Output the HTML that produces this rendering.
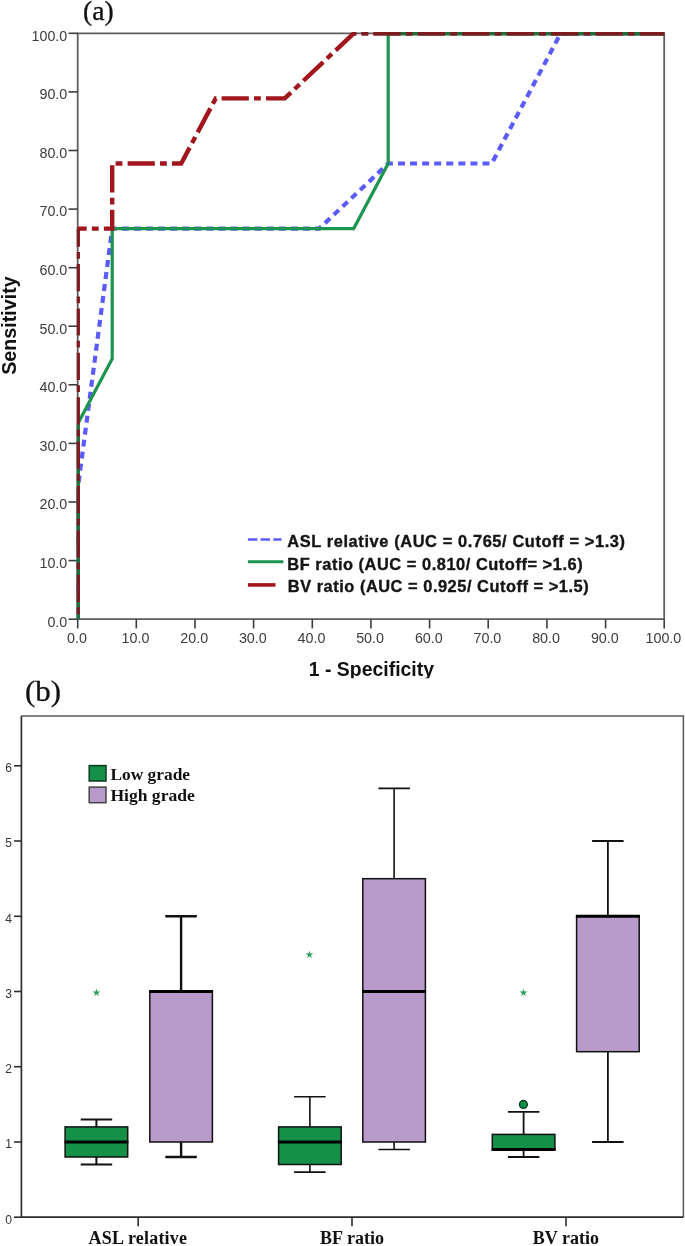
<!DOCTYPE html>
<html lang="en"><head><meta charset="utf-8"><title>ROC curves and box plots</title>
<style>
html,body{margin:0;padding:0;background:#fff}
body{width:685px;height:1246px;overflow:hidden}
svg{display:block;filter:blur(0.7px)}
.sans{font-family:"Liberation Sans",Arial,sans-serif}
.serif{font-family:"Liberation Serif","Times New Roman",serif}
.tk{font-size:14.3px;fill:#3c3c3c}
.btk{font-size:12px;fill:#333}
.leg{font-size:16.4px;font-weight:bold;fill:#141414;stroke:#141414;stroke-width:0.35px}
.ttl{font-size:19.5px;font-weight:bold;fill:#111}
.cat{font-size:18px;font-weight:bold;fill:#111}
.lg2{font-size:17.5px;font-weight:bold;fill:#111}
.pan{font-size:26px;fill:#111;stroke:#111;stroke-width:0.3px}
</style></head><body>
<svg width="685" height="1246" viewBox="0 0 685 1246">
<rect width="685" height="1246" fill="#fff"/>
<defs><clipPath id="pa"><rect x="76.7" y="32.1" width="589.1" height="588.9"/></clipPath>
<clipPath id="ct"><rect x="0" y="0" width="685" height="678.3"/></clipPath></defs>

<text class="serif pan" x="83.1" y="19.8" style="font-size:26.4px" textLength="30.7" lengthAdjust="spacingAndGlyphs">(a)</text>
<g stroke="#5e5e5e" stroke-width="1.8" fill="none">
<path d="M77.7 33.3 H664.2 V619.2 H77.7 Z"/>
</g>
<g stroke="#3d3d3d" stroke-width="1.6" fill="none">
<path d="M77.7 619.2 h-9.2"/>
<path d="M77.7 619.2 v9.2"/>
<path d="M77.7 560.6 h-9.2"/>
<path d="M136.3 619.2 v9.2"/>
<path d="M77.7 502.0 h-9.2"/>
<path d="M195.0 619.2 v9.2"/>
<path d="M77.7 443.4 h-9.2"/>
<path d="M253.6 619.2 v9.2"/>
<path d="M77.7 384.8 h-9.2"/>
<path d="M312.3 619.2 v9.2"/>
<path d="M77.7 326.2 h-9.2"/>
<path d="M370.9 619.2 v9.2"/>
<path d="M77.7 267.7 h-9.2"/>
<path d="M429.6 619.2 v9.2"/>
<path d="M77.7 209.1 h-9.2"/>
<path d="M488.2 619.2 v9.2"/>
<path d="M77.7 150.5 h-9.2"/>
<path d="M546.9 619.2 v9.2"/>
<path d="M77.7 91.9 h-9.2"/>
<path d="M605.6 619.2 v9.2"/>
<path d="M77.7 33.3 h-9.2"/>
<path d="M664.2 619.2 v9.2"/>
</g>
<g class="sans tk" text-anchor="end">
<text x="67.3" y="626.5">0.0</text>
<text x="67.3" y="567.9">10.0</text>
<text x="67.3" y="509.3">20.0</text>
<text x="67.3" y="450.7">30.0</text>
<text x="67.3" y="392.1">40.0</text>
<text x="67.3" y="333.6">50.0</text>
<text x="67.3" y="275.0">60.0</text>
<text x="67.3" y="216.4">70.0</text>
<text x="67.3" y="157.8">80.0</text>
<text x="67.3" y="99.2">90.0</text>
<text x="67.3" y="40.6">100.0</text>
</g>
<g class="sans tk" text-anchor="middle">
<text x="76.9" y="643.3">0.0</text>
<text x="135.5" y="643.3">10.0</text>
<text x="194.2" y="643.3">20.0</text>
<text x="252.8" y="643.3">30.0</text>
<text x="311.5" y="643.3">40.0</text>
<text x="370.1" y="643.3">50.0</text>
<text x="428.8" y="643.3">60.0</text>
<text x="487.4" y="643.3">70.0</text>
<text x="546.1" y="643.3">80.0</text>
<text x="604.8" y="643.3">90.0</text>
<text x="663.4" y="643.3">100.0</text>
</g>
<g clip-path="url(#pa)" fill="none" stroke-linejoin="miter">
<path d="M77.7 619.2 L77.7 489.0 L112.2 228.6 L319.2 228.6 L388.2 163.5 L491.7 163.5 L560.7 33.3 L664.2 33.3" stroke="#5b5bff" stroke-width="4.2" stroke-dasharray="7 5.08" stroke-dashoffset="8.22"/>
<path d="M77.7 619.2 L77.7 423.9 L112.2 358.8 L112.2 228.6 L353.7 228.6 L388.2 163.5 L388.2 33.3 L664.2 33.3" stroke="#1d9450" stroke-width="3.2"/>
<path d="M77.7 228.6 L112.2 228.6 L112.2 163.5 L181.2 163.5 L215.7 98.4 L284.7 98.4 L353.7 33.3 L664.2 33.3" stroke="#a3151c" stroke-width="4.4" stroke-dasharray="27.2 5.2 6.8 5.2" stroke-dashoffset="18.2"/>
<path d="M77.7 619.2 L77.7 489.0" stroke="#4c4cc0" stroke-width="4.5"/>
<path d="M77.7 619.2 L77.7 423.9" stroke="#1e6e3c" stroke-width="4.5"/>
<path d="M388.2 33.3 L664.2 33.3" stroke="#1e6e3c" stroke-width="4.5"/>
<path d="M77.7 619.2 L77.7 228.6" stroke="#7c1c21" stroke-width="4.5" stroke-dasharray="27.2 5.2 6.8 5.2" stroke-dashoffset="27.2"/>
<path d="M353.7 33.3 L664.2 33.3" stroke="#7c1c21" stroke-width="4.5" stroke-dasharray="27.2 5.2 6.8 5.2" stroke-dashoffset="24.6"/>
</g>
<path d="M247.9 539.5 H281.5" stroke="#5b5bff" stroke-width="2.6" stroke-dasharray="9.5 3.2" fill="none"/>
<path d="M247.9 561.8 H283.4" stroke="#1d9450" stroke-width="3" fill="none"/>
<path d="M247.9 584.9 H275.5" stroke="#a3151c" stroke-width="3.6" fill="none"/>
<g class="sans leg">
<text x="287.3" y="547.4" textLength="337.7" lengthAdjust="spacing">ASL relative (AUC = 0.765/ Cutoff = &gt;1.3)</text>
<text x="287.3" y="570.2" textLength="295.3" lengthAdjust="spacing">BF ratio (AUC = 0.810/ Cutoff= &gt;1.6)</text>
<text x="287.8" y="591.9" textLength="300.8" lengthAdjust="spacing">BV ratio (AUC = 0.925/ Cutoff = &gt;1.5)</text>
</g>
<text class="sans ttl" transform="translate(16.2 374.8) rotate(-90)" textLength="98.6" lengthAdjust="spacingAndGlyphs">Sensitivity</text>
<g clip-path="url(#ct)"><text class="sans ttl" x="308.8" y="676.1" textLength="125.2" lengthAdjust="spacingAndGlyphs">1 - Specificity</text></g>
<text class="serif pan" x="25.1" y="701" style="font-size:29.8px" textLength="36" lengthAdjust="spacingAndGlyphs">(b)</text>
<g fill="none">
<path d="M21.4 715.9 H683.4 V1217.2" stroke="#5a5a5a" stroke-width="1.5"/>
<path d="M21.4 715.9 V1217.2 H683.4" stroke="#2e2e2e" stroke-width="1.7"/>
<g stroke="#2e2e2e" stroke-width="1.6">
<path d="M21.4 1217.2 h-7.4"/>
<path d="M21.4 1142.0 h-7.4"/>
<path d="M21.4 1066.7 h-7.4"/>
<path d="M21.4 991.5 h-7.4"/>
<path d="M21.4 916.3 h-7.4"/>
<path d="M21.4 841.0 h-7.4"/>
<path d="M21.4 765.8 h-7.4"/>
<path d="M138.2 1217.2 v9"/>
<path d="M352.0 1217.2 v9"/>
<path d="M566.0 1217.2 v9"/>
</g></g>
<g class="sans btk" text-anchor="end">
<text x="12" y="1223.5">0</text>
<text x="12" y="1148.3">1</text>
<text x="12" y="1073.0">2</text>
<text x="12" y="997.8">3</text>
<text x="12" y="922.6">4</text>
<text x="12" y="847.3">5</text>
<text x="12" y="772.1">6</text>
</g>
<g class="serif cat" text-anchor="middle">
<text x="137.8" y="1243.5" textLength="98.4" lengthAdjust="spacing">ASL relative</text>
<text x="352.0" y="1243.5">BF ratio</text>
<text x="565.9" y="1243.5">BV ratio</text>
</g>
<rect x="89.2" y="765.6" width="16.8" height="15.4" fill="#149048" stroke="#0b3a1f" stroke-width="1.5"/>
<rect x="89.2" y="787.1" width="16.8" height="15.6" fill="#b89bcb" stroke="#444" stroke-width="1.5"/>
<text class="serif lg2" x="110.4" y="780.2" textLength="79.7" lengthAdjust="spacingAndGlyphs">Low grade</text>
<text class="serif lg2" x="110.4" y="800.5" textLength="84.4" lengthAdjust="spacingAndGlyphs">High grade</text>
<g stroke="#111" stroke-width="2.0" fill="none">
<path d="M96.4 1119.4 V1126.9 M96.4 1157.0 V1164.5"/>
<path d="M80.7 1119.4 h31.5 M80.7 1164.5 h31.5"/>
<rect x="65.1" y="1126.9" width="62.6" height="30.1" fill="#149048" stroke-width="1.5"/>
<path d="M64.4 1142.0 h64.0" stroke="#000" stroke-width="2.9"/>
</g>
<g stroke="#111" stroke-width="2.4" fill="none">
<path d="M181.1 916.3 V991.5 M181.1 1142.0 V1157.0"/>
<path d="M165.3 916.3 h31.5 M165.3 1157.0 h31.5"/>
<rect x="149.8" y="991.5" width="62.6" height="150.5" fill="#b89bcb" stroke-width="1.5"/>
<path d="M149.1 991.5 h64.0" stroke="#000" stroke-width="2.9"/>
</g>
<text class="sans" x="96.4" y="995.5" text-anchor="middle" font-size="10" fill="#2a9d5c">★</text>
<g stroke="#111" stroke-width="1.6" fill="none">
<path d="M309.9 1096.8 V1126.9 M309.9 1164.5 V1172.1"/>
<path d="M294.1 1096.8 h31.5 M294.1 1172.1 h31.5"/>
<rect x="278.6" y="1126.9" width="62.6" height="37.6" fill="#149048" stroke-width="1.5"/>
<path d="M277.9 1142.0 h64.0" stroke="#000" stroke-width="2.9"/>
</g>
<g stroke="#111" stroke-width="1.6" fill="none">
<path d="M394.1 788.4 V878.7 M394.1 1142.0 V1149.5"/>
<path d="M378.4 788.4 h31.5 M378.4 1149.5 h31.5"/>
<rect x="362.8" y="878.7" width="62.6" height="263.3" fill="#b89bcb" stroke-width="1.5"/>
<path d="M362.1 991.5 h64.0" stroke="#000" stroke-width="2.9"/>
</g>
<text class="sans" x="309.9" y="957.9" text-anchor="middle" font-size="10" fill="#2a9d5c">★</text>
<g stroke="#111" stroke-width="1.8" fill="none">
<path d="M523.6 1111.9 V1134.4 M523.6 1149.5 V1157.0"/>
<path d="M507.9 1111.9 h31.5 M507.9 1157.0 h31.5"/>
<rect x="492.3" y="1134.4" width="62.6" height="15.0" fill="#149048" stroke-width="1.5"/>
<path d="M491.6 1149.5 h64.0" stroke="#000" stroke-width="2.9"/>
</g>
<g stroke="#111" stroke-width="1.8" fill="none">
<path d="M607.9 841.0 V916.3 M607.9 1051.7 V1142.0"/>
<path d="M592.1 841.0 h31.5 M592.1 1142.0 h31.5"/>
<rect x="576.6" y="916.3" width="62.6" height="135.4" fill="#b89bcb" stroke-width="1.5"/>
<path d="M575.9 916.3 h64.0" stroke="#000" stroke-width="2.9"/>
</g>
<text class="sans" x="523.6" y="995.5" text-anchor="middle" font-size="10" fill="#2a9d5c">★</text>
<circle cx="523.4" cy="1104.4" r="3.9" fill="#149048" stroke="#0b3a1f" stroke-width="1.4"/>
</svg></body></html>
